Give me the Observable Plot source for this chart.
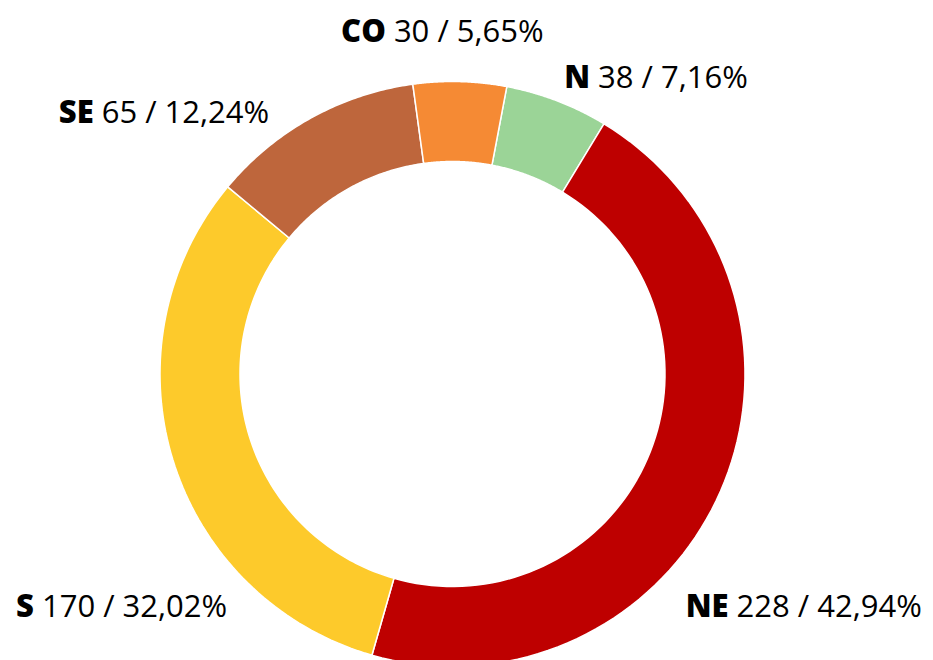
<!DOCTYPE html>
<html>
<head>
<meta charset="utf-8">
<script src="https://cdn.jsdelivr.net/npm/d3@7"></script>
<script src="https://cdn.jsdelivr.net/npm/@observablehq/plot@0.6"></script>
<style>
  html, body { margin: 0; padding: 0; background: #fff; }
  #chart svg { display: block; }
</style>
</head>
<body>
<div id="chart"></div>
<script>
// ---- data ----
const regions = ["N", "NE", "S", "SE", "CO"];
const counts = [38, 228, 170, 65, 30];
// share of the ring each slice occupies as drawn (percent)
const sliceShares = [5.69, 45.78, 31.61, 11.78, 5.14];
const colors = ["#9BD497", "#BE0000", "#FDCA2B", "#BE663C", "#F58A34"];

// ---- layout ----
const W = 933, H = 660;
const cx = 452, cy = 373.5, R = 292.5;       // pixel center / outer radius
const innerRatio = 0.7265;
const startDeg = 10.7;
const total = d3.sum(counts);
const fmtPct = v => d3.format(".2f")(v).replace(".", ",") + "%";

const pie = d3.pie().sort(null).value(d => d.share)
  .startAngle(startDeg * Math.PI / 180)
  .endAngle(startDeg * Math.PI / 180 + 2 * Math.PI);

const rows = regions.map((r, i) => ({
  region: r, count: counts[i], share: sliceShares[i],
  label: `${counts[i]} / ${fmtPct(counts[i] / total * 100)}`
}));
const arcs = pie(rows);

// polygon outline of each ring slice, in data units (outer radius = 1)
const steps = 80;
const outline = [];
for (const a of arcs) {
  const pts = [];
  for (let k = 0; k <= steps; k++) {
    const t = a.startAngle + (a.endAngle - a.startAngle) * k / steps;
    pts.push({region: a.data.region, x: Math.sin(t), y: Math.cos(t)});
  }
  for (let k = steps; k >= 0; k--) {
    const t = a.startAngle + (a.endAngle - a.startAngle) * k / steps;
    pts.push({region: a.data.region, x: Math.sin(t) * innerRatio, y: Math.cos(t) * innerRatio});
  }
  pts.push(pts[0]);
  outline.push(...pts);
}

// label placement offsets (pixels) from each slice's outer mid point
const labelOffset = {
  N:  {dx: 33, dy: -13},
  NE: {dx: 8,  dy: 126},
  S:  {dx: -139, dy: 157},
  SE: {dx: -217, dy: 5},
  CO: {dx: -74, dy: -40}
};
const font = "'Open Sans', 'Noto Sans', sans-serif";
const fs = 31;

const labelMarks = arcs.flatMap(a => {
  const mid = (a.startAngle + a.endAngle) / 2;
  const d = {x: Math.sin(mid), y: Math.cos(mid), name: a.data.region, label: a.data.label};
  const o = labelOffset[a.data.region];
  return [
    Plot.text([d], {x: "x", y: "y", text: "name", textAnchor: "end", lineAnchor: "bottom",
      dx: o.dx, dy: o.dy, fontSize: fs, fontWeight: 800, fill: "#000", fontFamily: font}),
    Plot.text([d], {x: "x", y: "y", text: "label", textAnchor: "start", lineAnchor: "bottom",
      dx: o.dx + 8, dy: o.dy, fontSize: fs, fontWeight: 400, fill: "#000", fontFamily: font})
  ];
});

const chart = Plot.plot({
  width: W, height: H, margin: 0,
  x: {domain: [-cx / R, (W - cx) / R], axis: null},
  y: {domain: [(cy - H) / R, cy / R], axis: null},
  color: {domain: regions, range: colors},
  marks: [
    Plot.line(outline, {x: "x", y: "y", z: "region", fill: "region", stroke: "#ffffff", strokeWidth: 1.5, strokeLinejoin: "round"}),
    ...labelMarks
  ]
});
document.getElementById("chart").appendChild(chart);
</script>
</body>
</html>
